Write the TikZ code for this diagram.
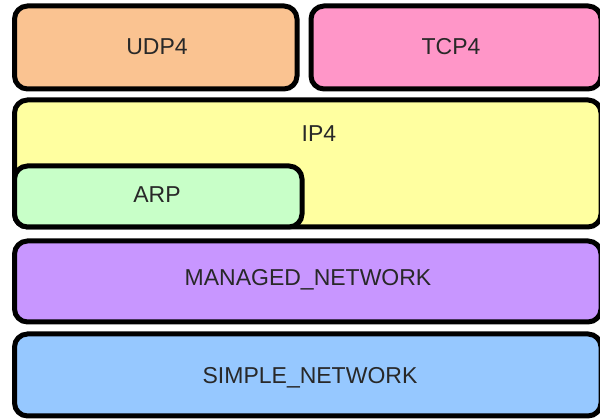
\documentclass[tikz,border=0pt]{standalone}
\usepackage{fontspec}
\setmainfont{Liberation Sans}
\definecolor{udpfill}{RGB}{250,195,145}
\definecolor{tcpfill}{RGB}{255,150,200}
\definecolor{ipfill}{RGB}{255,255,160}
\definecolor{arpfill}{RGB}{200,255,200}
\definecolor{mnpfill}{RGB}{200,150,255}
\definecolor{snpfill}{RGB}{150,200,255}
\definecolor{labeltext}{RGB}{40,40,40}
\tikzset{
  layer/.style={draw=black, line width=5pt, rounded corners=13pt,
    inner sep=0pt, outer sep=0pt},
  layertext/.style={text=labeltext, font=\fontsize{23}{26}\selectfont,
    inner sep=0pt}
}
\begin{document}
\begin{tikzpicture}[x=1pt,y=-1pt]
  \useasboundingbox (0,0) rectangle (600,419);
  % top row: transport protocols
  \node[layer, fill=udpfill, minimum width=282.5pt, minimum height=83pt]
    (udp) at (155.75,47.5) {};
  \node[layertext] (udpt) at (157,47) {UDP4};
  \node[layer, fill=tcpfill, minimum width=290pt, minimum height=83pt]
    (tcp) at (456,47.5) {};
  \node[layertext] (tcpt) at (451,47) {TCP4};
  % network layer with ARP inside it
  \node[layer, fill=ipfill, minimum width=586.5pt, minimum height=127pt]
    (ip) at (307.75,163.5) {};
  \node[layertext] (ipt) at (319,134) {IP4};
  \node[layer, fill=arpfill, minimum width=287.5pt, minimum height=61pt]
    (arp) at (158.25,196.5) {};
  \node[layertext] (arpt) at (157,195) {ARP};
  % lower layers
  \node[layer, fill=mnpfill, minimum width=586.5pt, minimum height=81pt]
    (mnp) at (307.75,281.5) {};
  \node[layertext] (mnpt) at (308,280) {MANAGED\_NETWORK};
  \node[layer, fill=snpfill, minimum width=586.5pt, minimum height=82pt]
    (snp) at (307.75,375) {};
  \node[layertext] (snpt) at (310,378) {SIMPLE\_NETWORK};
\end{tikzpicture}
\end{document}
